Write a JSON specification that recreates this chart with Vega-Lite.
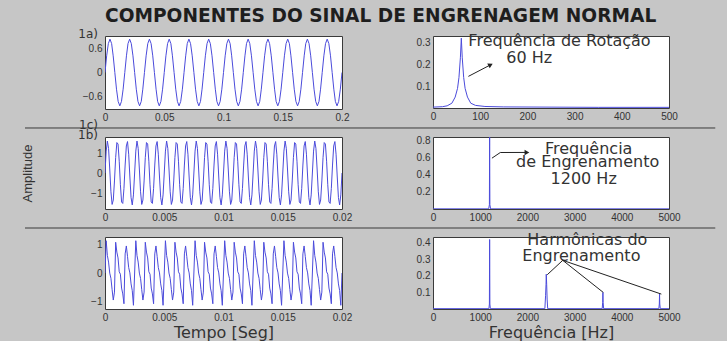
{
"$schema": "https://vega.github.io/schema/vega-lite/v6.json",
"background": "#c6c6c6",
"padding": {"left": 20, "top": 6, "right": 12, "bottom": 0},
"title": {"text": "COMPONENTES DO SINAL DE ENGRENAGEM NORMAL", "anchor": "start", "frame": "group", "font": "DejaVu Sans", "fontSize": 18.6, "fontWeight": "bold", "color": "#1e1e1e", "offset": 2},
"config": {
  "view": {"fill": "white", "stroke": "#3a3a3a", "strokeWidth": 1},
  "axis": {"grid": false, "domain": false, "ticks": false, "labelFont": "Liberation Sans", "labelFontSize": 10, "labelColor": "#333", "labelPadding": 3, "labelFlush": false, "labelOverlap": false, "titleFont": "DejaVu Sans", "titleFontSize": 16, "titleFontWeight": "normal", "titleColor": "#333", "format": ".4~r"},
  "line": {"color": "#4b4bdb", "strokeWidth": 1}
},
"datasets": {
  "a": [
    {"t":0,"v":0},{"t":0.0014,"v":0.425},{"t":0.0028,"v":0.736},{"t":0.0042,"v":0.85},{"t":0.0056,"v":0.736},{"t":0.0069,"v":0.425},{"t":0.0083,"v":0},{"t":0.0097,"v":-0.425},{"t":0.0111,"v":-0.736},{"t":0.0125,"v":-0.85},{"t":0.0139,"v":-0.736},{"t":0.0153,"v":-0.425},
    {"t":0.0167,"v":0},{"t":0.0181,"v":0.425},{"t":0.0194,"v":0.736},{"t":0.0208,"v":0.85},{"t":0.0222,"v":0.736},{"t":0.0236,"v":0.425},{"t":0.025,"v":0},{"t":0.0264,"v":-0.425},{"t":0.0278,"v":-0.736},{"t":0.0292,"v":-0.85},{"t":0.0306,"v":-0.736},{"t":0.0319,"v":-0.425},
    {"t":0.0333,"v":0},{"t":0.0347,"v":0.425},{"t":0.0361,"v":0.736},{"t":0.0375,"v":0.85},{"t":0.0389,"v":0.736},{"t":0.0403,"v":0.425},{"t":0.0417,"v":0},{"t":0.0431,"v":-0.425},{"t":0.0444,"v":-0.736},{"t":0.0458,"v":-0.85},{"t":0.0472,"v":-0.736},{"t":0.0486,"v":-0.425},
    {"t":0.05,"v":0},{"t":0.0514,"v":0.425},{"t":0.0528,"v":0.736},{"t":0.0542,"v":0.85},{"t":0.0556,"v":0.736},{"t":0.0569,"v":0.425},{"t":0.0583,"v":0},{"t":0.0597,"v":-0.425},{"t":0.0611,"v":-0.736},{"t":0.0625,"v":-0.85},{"t":0.0639,"v":-0.736},{"t":0.0653,"v":-0.425},
    {"t":0.0667,"v":0},{"t":0.0681,"v":0.425},{"t":0.0694,"v":0.736},{"t":0.0708,"v":0.85},{"t":0.0722,"v":0.736},{"t":0.0736,"v":0.425},{"t":0.075,"v":0},{"t":0.0764,"v":-0.425},{"t":0.0778,"v":-0.736},{"t":0.0792,"v":-0.85},{"t":0.0806,"v":-0.736},{"t":0.0819,"v":-0.425},
    {"t":0.0833,"v":0},{"t":0.0847,"v":0.425},{"t":0.0861,"v":0.736},{"t":0.0875,"v":0.85},{"t":0.0889,"v":0.736},{"t":0.0903,"v":0.425},{"t":0.0917,"v":0},{"t":0.0931,"v":-0.425},{"t":0.0944,"v":-0.736},{"t":0.0958,"v":-0.85},{"t":0.0972,"v":-0.736},{"t":0.0986,"v":-0.425},
    {"t":0.1,"v":0},{"t":0.1014,"v":0.425},{"t":0.1028,"v":0.736},{"t":0.1042,"v":0.85},{"t":0.1056,"v":0.736},{"t":0.1069,"v":0.425},{"t":0.1083,"v":0},{"t":0.1097,"v":-0.425},{"t":0.1111,"v":-0.736},{"t":0.1125,"v":-0.85},{"t":0.1139,"v":-0.736},{"t":0.1153,"v":-0.425},
    {"t":0.1167,"v":0},{"t":0.1181,"v":0.425},{"t":0.1194,"v":0.736},{"t":0.1208,"v":0.85},{"t":0.1222,"v":0.736},{"t":0.1236,"v":0.425},{"t":0.125,"v":0},{"t":0.1264,"v":-0.425},{"t":0.1278,"v":-0.736},{"t":0.1292,"v":-0.85},{"t":0.1306,"v":-0.736},{"t":0.1319,"v":-0.425},
    {"t":0.1333,"v":0},{"t":0.1347,"v":0.425},{"t":0.1361,"v":0.736},{"t":0.1375,"v":0.85},{"t":0.1389,"v":0.736},{"t":0.1403,"v":0.425},{"t":0.1417,"v":0},{"t":0.1431,"v":-0.425},{"t":0.1444,"v":-0.736},{"t":0.1458,"v":-0.85},{"t":0.1472,"v":-0.736},{"t":0.1486,"v":-0.425},
    {"t":0.15,"v":0},{"t":0.1514,"v":0.425},{"t":0.1528,"v":0.736},{"t":0.1542,"v":0.85},{"t":0.1556,"v":0.736},{"t":0.1569,"v":0.425},{"t":0.1583,"v":0},{"t":0.1597,"v":-0.425},{"t":0.1611,"v":-0.736},{"t":0.1625,"v":-0.85},{"t":0.1639,"v":-0.736},{"t":0.1653,"v":-0.425},
    {"t":0.1667,"v":0},{"t":0.1681,"v":0.425},{"t":0.1694,"v":0.736},{"t":0.1708,"v":0.85},{"t":0.1722,"v":0.736},{"t":0.1736,"v":0.425},{"t":0.175,"v":0},{"t":0.1764,"v":-0.425},{"t":0.1778,"v":-0.736},{"t":0.1792,"v":-0.85},{"t":0.1806,"v":-0.736},{"t":0.1819,"v":-0.425},
    {"t":0.1833,"v":0},{"t":0.1847,"v":0.425},{"t":0.1861,"v":0.736},{"t":0.1875,"v":0.85},{"t":0.1889,"v":0.736},{"t":0.1903,"v":0.425},{"t":0.1917,"v":0},{"t":0.1931,"v":-0.425},{"t":0.1944,"v":-0.736},{"t":0.1958,"v":-0.85},{"t":0.1972,"v":-0.736},{"t":0.1986,"v":-0.425},
    {"t":0.2,"v":0}
  ],
  "bc": [
    {"t":0,"b":0,"c":0},{"t":0.0001,"b":1.095,"c":1.121},{"t":0.0002,"b":1.597,"c":0.612},{"t":0.0003,"b":1.233,"c":0.379},{"t":0.0004,"b":0.2,"c":-0.003},{"t":0.0005,"b":-0.94,"c":-0.186},{"t":0.0006,"b":-1.572,"c":-0.579},{"t":0.0007,"b":-1.351,"c":-0.939},{"t":0.0008,"b":-0.398,"c":-0.664},{"t":0.0009,"b":0.771,"c":1.068},{"t":0.001,"b":1.522,"c":0.726},{"t":0.0011,"b":1.448,"c":0.523},{"t":0.0012,"b":0.589,"c":0.042},{"t":0.0013,"b":-0.589,"c":-0.042},{"t":0.0014,"b":-1.448,"c":-0.523},{"t":0.0015,"b":-1.522,"c":-0.726},{"t":0.0016,"b":-0.771,"c":-1.068},{"t":0.0017,"b":0.398,"c":0.664},{"t":0.0018,"b":1.351,"c":0.939},{"t":0.0019,"b":1.572,"c":0.579},{"t":0.002,"b":0.94,"c":0.186},{"t":0.0021,"b":-0.2,"c":0.003},{"t":0.0022,"b":-1.233,"c":-0.379},{"t":0.0023,"b":-1.597,"c":-0.612},{"t":0.0024,"b":-1.095,"c":-1.121},
    {"t":0.0025,"b":0,"c":0},{"t":0.0026,"b":1.095,"c":1.121},{"t":0.0027,"b":1.597,"c":0.612},{"t":0.0028,"b":1.233,"c":0.379},{"t":0.0029,"b":0.2,"c":-0.003},{"t":0.003,"b":-0.94,"c":-0.186},{"t":0.0031,"b":-1.572,"c":-0.579},{"t":0.0032,"b":-1.351,"c":-0.939},{"t":0.0033,"b":-0.398,"c":-0.664},{"t":0.0034,"b":0.771,"c":1.068},{"t":0.0035,"b":1.522,"c":0.726},{"t":0.0036,"b":1.448,"c":0.523},{"t":0.0037,"b":0.589,"c":0.042},{"t":0.0038,"b":-0.589,"c":-0.042},{"t":0.0039,"b":-1.448,"c":-0.523},{"t":0.004,"b":-1.522,"c":-0.726},{"t":0.0041,"b":-0.771,"c":-1.068},{"t":0.0042,"b":0.398,"c":0.664},{"t":0.0043,"b":1.351,"c":0.939},{"t":0.0044,"b":1.572,"c":0.579},{"t":0.0045,"b":0.94,"c":0.186},{"t":0.0046,"b":-0.2,"c":0.003},{"t":0.0047,"b":-1.233,"c":-0.379},{"t":0.0048,"b":-1.597,"c":-0.612},{"t":0.0049,"b":-1.095,"c":-1.121},
    {"t":0.005,"b":0,"c":0},{"t":0.0051,"b":1.095,"c":1.121},{"t":0.0052,"b":1.597,"c":0.612},{"t":0.0053,"b":1.233,"c":0.379},{"t":0.0054,"b":0.2,"c":-0.003},{"t":0.0055,"b":-0.94,"c":-0.186},{"t":0.0056,"b":-1.572,"c":-0.579},{"t":0.0057,"b":-1.351,"c":-0.939},{"t":0.0058,"b":-0.398,"c":-0.664},{"t":0.0059,"b":0.771,"c":1.068},{"t":0.006,"b":1.522,"c":0.726},{"t":0.0061,"b":1.448,"c":0.523},{"t":0.0062,"b":0.589,"c":0.042},{"t":0.0063,"b":-0.589,"c":-0.042},{"t":0.0064,"b":-1.448,"c":-0.523},{"t":0.0065,"b":-1.522,"c":-0.726},{"t":0.0066,"b":-0.771,"c":-1.068},{"t":0.0067,"b":0.398,"c":0.664},{"t":0.0068,"b":1.351,"c":0.939},{"t":0.0069,"b":1.572,"c":0.579},{"t":0.007,"b":0.94,"c":0.186},{"t":0.0071,"b":-0.2,"c":0.003},{"t":0.0072,"b":-1.233,"c":-0.379},{"t":0.0073,"b":-1.597,"c":-0.612},{"t":0.0074,"b":-1.095,"c":-1.121},
    {"t":0.0075,"b":0,"c":0},{"t":0.0076,"b":1.095,"c":1.121},{"t":0.0077,"b":1.597,"c":0.612},{"t":0.0078,"b":1.233,"c":0.379},{"t":0.0079,"b":0.2,"c":-0.003},{"t":0.008,"b":-0.94,"c":-0.186},{"t":0.0081,"b":-1.572,"c":-0.579},{"t":0.0082,"b":-1.351,"c":-0.939},{"t":0.0083,"b":-0.398,"c":-0.664},{"t":0.0084,"b":0.771,"c":1.068},{"t":0.0085,"b":1.522,"c":0.726},{"t":0.0086,"b":1.448,"c":0.523},{"t":0.0087,"b":0.589,"c":0.042},{"t":0.0088,"b":-0.589,"c":-0.042},{"t":0.0089,"b":-1.448,"c":-0.523},{"t":0.009,"b":-1.522,"c":-0.726},{"t":0.0091,"b":-0.771,"c":-1.068},{"t":0.0092,"b":0.398,"c":0.664},{"t":0.0093,"b":1.351,"c":0.939},{"t":0.0094,"b":1.572,"c":0.579},{"t":0.0095,"b":0.94,"c":0.186},{"t":0.0096,"b":-0.2,"c":0.003},{"t":0.0097,"b":-1.233,"c":-0.379},{"t":0.0098,"b":-1.597,"c":-0.612},{"t":0.0099,"b":-1.095,"c":-1.121},
    {"t":0.01,"b":0,"c":0},{"t":0.0101,"b":1.095,"c":1.121},{"t":0.0102,"b":1.597,"c":0.612},{"t":0.0103,"b":1.233,"c":0.379},{"t":0.0104,"b":0.2,"c":-0.003},{"t":0.0105,"b":-0.94,"c":-0.186},{"t":0.0106,"b":-1.572,"c":-0.579},{"t":0.0107,"b":-1.351,"c":-0.939},{"t":0.0108,"b":-0.398,"c":-0.664},{"t":0.0109,"b":0.771,"c":1.068},{"t":0.011,"b":1.522,"c":0.726},{"t":0.0111,"b":1.448,"c":0.523},{"t":0.0112,"b":0.589,"c":0.042},{"t":0.0113,"b":-0.589,"c":-0.042},{"t":0.0114,"b":-1.448,"c":-0.523},{"t":0.0115,"b":-1.522,"c":-0.726},{"t":0.0116,"b":-0.771,"c":-1.068},{"t":0.0117,"b":0.398,"c":0.664},{"t":0.0118,"b":1.351,"c":0.939},{"t":0.0119,"b":1.572,"c":0.579},{"t":0.012,"b":0.94,"c":0.186},{"t":0.0121,"b":-0.2,"c":0.003},{"t":0.0122,"b":-1.233,"c":-0.379},{"t":0.0123,"b":-1.597,"c":-0.612},{"t":0.0124,"b":-1.095,"c":-1.121},
    {"t":0.0125,"b":0,"c":0},{"t":0.0126,"b":1.095,"c":1.121},{"t":0.0127,"b":1.597,"c":0.612},{"t":0.0128,"b":1.233,"c":0.379},{"t":0.0129,"b":0.2,"c":-0.003},{"t":0.013,"b":-0.94,"c":-0.186},{"t":0.0131,"b":-1.572,"c":-0.579},{"t":0.0132,"b":-1.351,"c":-0.939},{"t":0.0133,"b":-0.398,"c":-0.664},{"t":0.0134,"b":0.771,"c":1.068},{"t":0.0135,"b":1.522,"c":0.726},{"t":0.0136,"b":1.448,"c":0.523},{"t":0.0137,"b":0.589,"c":0.042},{"t":0.0138,"b":-0.589,"c":-0.042},{"t":0.0139,"b":-1.448,"c":-0.523},{"t":0.014,"b":-1.522,"c":-0.726},{"t":0.0141,"b":-0.771,"c":-1.068},{"t":0.0142,"b":0.398,"c":0.664},{"t":0.0143,"b":1.351,"c":0.939},{"t":0.0144,"b":1.572,"c":0.579},{"t":0.0145,"b":0.94,"c":0.186},{"t":0.0146,"b":-0.2,"c":0.003},{"t":0.0147,"b":-1.233,"c":-0.379},{"t":0.0148,"b":-1.597,"c":-0.612},{"t":0.0149,"b":-1.095,"c":-1.121},
    {"t":0.015,"b":0,"c":0},{"t":0.0151,"b":1.095,"c":1.121},{"t":0.0152,"b":1.597,"c":0.612},{"t":0.0153,"b":1.233,"c":0.379},{"t":0.0154,"b":0.2,"c":-0.003},{"t":0.0155,"b":-0.94,"c":-0.186},{"t":0.0156,"b":-1.572,"c":-0.579},{"t":0.0157,"b":-1.351,"c":-0.939},{"t":0.0158,"b":-0.398,"c":-0.664},{"t":0.0159,"b":0.771,"c":1.068},{"t":0.016,"b":1.522,"c":0.726},{"t":0.0161,"b":1.448,"c":0.523},{"t":0.0162,"b":0.589,"c":0.042},{"t":0.0163,"b":-0.589,"c":-0.042},{"t":0.0164,"b":-1.448,"c":-0.523},{"t":0.0165,"b":-1.522,"c":-0.726},{"t":0.0166,"b":-0.771,"c":-1.068},{"t":0.0167,"b":0.398,"c":0.664},{"t":0.0168,"b":1.351,"c":0.939},{"t":0.0169,"b":1.572,"c":0.579},{"t":0.017,"b":0.94,"c":0.186},{"t":0.0171,"b":-0.2,"c":0.003},{"t":0.0172,"b":-1.233,"c":-0.379},{"t":0.0173,"b":-1.597,"c":-0.612},{"t":0.0174,"b":-1.095,"c":-1.121},
    {"t":0.0175,"b":0,"c":0},{"t":0.0176,"b":1.095,"c":1.121},{"t":0.0177,"b":1.597,"c":0.612},{"t":0.0178,"b":1.233,"c":0.379},{"t":0.0179,"b":0.2,"c":-0.003},{"t":0.018,"b":-0.94,"c":-0.186},{"t":0.0181,"b":-1.572,"c":-0.579},{"t":0.0182,"b":-1.351,"c":-0.939},{"t":0.0183,"b":-0.398,"c":-0.664},{"t":0.0184,"b":0.771,"c":1.068},{"t":0.0185,"b":1.522,"c":0.726},{"t":0.0186,"b":1.448,"c":0.523},{"t":0.0187,"b":0.589,"c":0.042},{"t":0.0188,"b":-0.589,"c":-0.042},{"t":0.0189,"b":-1.448,"c":-0.523},{"t":0.019,"b":-1.522,"c":-0.726},{"t":0.0191,"b":-0.771,"c":-1.068},{"t":0.0192,"b":0.398,"c":0.664},{"t":0.0193,"b":1.351,"c":0.939},{"t":0.0194,"b":1.572,"c":0.579},{"t":0.0195,"b":0.94,"c":0.186},{"t":0.0196,"b":-0.2,"c":0.003},{"t":0.0197,"b":-1.233,"c":-0.379},{"t":0.0198,"b":-1.597,"c":-0.612},{"t":0.0199,"b":-1.095,"c":-1.121},
    {"t":0.02,"b":0,"c":0}
  ],
  "s1": [{"f":0,"a":0.004},{"f":20,"a":0.006},{"f":30,"a":0.01},{"f":40,"a":0.022},{"f":47,"a":0.05},{"f":52,"a":0.09},{"f":55,"a":0.14},{"f":58,"a":0.23},{"f":60,"a":0.32},{"f":62,"a":0.23},{"f":65,"a":0.14},{"f":68,"a":0.09},{"f":73,"a":0.05},{"f":80,"a":0.022},{"f":90,"a":0.012},{"f":110,"a":0.007},{"f":150,"a":0.005},{"f":250,"a":0.004},{"f":350,"a":0.003},{"f":500,"a":0.003}],
  "s2": [{"f":0,"a":0.002},{"f":1180,"a":0.002},{"f":1195,"a":0.05},{"f":1200,"a":0.84},{"f":1205,"a":0.05},{"f":1220,"a":0.002},{"f":5000,"a":0.002}],
  "s3": [{"f":0,"a":0.002},{"f":1185,"a":0.002},{"f":1195,"a":0.03},{"f":1200,"a":0.42},{"f":1205,"a":0.03},{"f":1215,"a":0.002},{"f":2370,"a":0.002},{"f":2385,"a":0.08},{"f":2395,"a":0.15},{"f":2400,"a":0.21},{"f":2408,"a":0.15},{"f":2418,"a":0.06},{"f":2430,"a":0.002},{"f":3585,"a":0.002},{"f":3595,"a":0.04},{"f":3600,"a":0.1},{"f":3605,"a":0.04},{"f":3615,"a":0.002},{"f":4785,"a":0.002},{"f":4795,"a":0.03},{"f":4800,"a":0.09},{"f":4805,"a":0.03},{"f":4815,"a":0.002},{"f":5000,"a":0.002}],
  "n1": [{"f":268,"a":0.305,"txt":"Frequência de Rotação"},{"f":204,"a":0.227,"txt":"60 Hz"}],
  "n2": [{"f":3298,"a":0.697,"txt":"Frequência"},{"f":3277,"a":0.543,"txt":"de Engrenamento"},{"f":3192,"a":0.35,"txt":"1200 Hz"}],
  "n3": [{"f":3270,"a":0.417,"txt":"Harmônicas do"},{"f":3144,"a":0.321,"txt":"Engrenamento"}],
  "r1": [{"f":75,"a":0.145,"f2":122,"a2":0.198}],
  "r2": [{"f":1249,"a":0.593,"f2":1426,"a2":0.659},{"f":1426,"a":0.659,"f2":1980,"a2":0.66}],
  "r3": [{"f":2749,"a":0.294,"f2":2420,"a2":0.207},{"f":2749,"a":0.294,"f2":3608,"a2":0.1},{"f":2749,"a":0.294,"f2":4838,"a2":0.09}],
  "h1": [{"f":122,"a":0.198}],
  "h2": [{"f":1990,"a":0.66}]
},
"columns": 2,
"spacing": {"row": 28, "column": 91},
"bounds": "flush",
"concat": [
    {"width": 237, "height": 73,
     "title": {"text": "1a)", "anchor": "start", "frame": "group", "align": "right", "dx": -7, "offset": -5, "font": "DejaVu Sans", "fontSize": 12, "fontWeight": "normal", "color": "#333"},
     "data": {"name": "a"}, "mark": {"type": "line", "clip": true},
     "encoding": {"x": {"field": "t", "type": "quantitative", "scale": {"domain": [0, 0.2], "nice": false, "zero": false}, "axis": {"values": [0, 0.05, 0.1, 0.15, 0.2], "title": null}},
                  "y": {"field": "v", "type": "quantitative", "scale": {"domain": [-0.93, 0.93], "nice": false, "zero": false}, "axis": {"values": [-0.6, 0, 0.6], "title": null}}}},
    {"width": 236, "height": 72,
     "encoding": {"x": {"field": "f", "type": "quantitative", "scale": {"domain": [0, 500], "nice": false, "zero": false}, "axis": {"values": [0, 100, 200, 300, 400, 500], "title": null}},
                  "y": {"field": "a", "type": "quantitative", "scale": {"domain": [0, 0.33], "nice": false}, "axis": {"values": [0.1, 0.2, 0.3], "title": null}}},
     "layer": [
      {"data": {"name": "s1"}, "mark": {"type": "line", "clip": true}},
      {"data": {"name": "n1"}, "mark": {"type": "text", "font": "DejaVu Sans", "fontSize": 16, "color": "#333", "baseline": "middle"}, "encoding": {"text": {"field": "txt"}}},
      {"data": {"name": "r1"}, "mark": {"type": "rule", "color": "#222", "strokeWidth": 1}, "encoding": {"x2": {"field": "f2"}, "y2": {"field": "a2"}}},
      {"data": {"name": "h1"}, "mark": {"type": "point", "shape": "triangle-up", "filled": true, "color": "#222", "opacity": 1, "size": 30, "angle": 63}}
     ]},
    {"width": 237, "height": 72,
     "title": {"text": "1b)", "anchor": "start", "frame": "group", "align": "right", "dx": -7, "offset": -5, "font": "DejaVu Sans", "fontSize": 12, "fontWeight": "normal", "color": "#333"},
     "data": {"name": "bc"}, "mark": {"type": "line", "clip": true},
     "encoding": {"x": {"field": "t", "type": "quantitative", "scale": {"domain": [0, 0.02], "nice": false, "zero": false}, "axis": {"values": [0, 0.005, 0.01, 0.015, 0.02], "title": null}},
                  "y": {"field": "b", "type": "quantitative", "scale": {"domain": [-1.8, 1.8], "nice": false, "zero": false}, "axis": {"values": [-1, 0, 1], "title": "Amplitude", "titleAngle": -90, "titleX": -78, "titleY": 36, "titleAlign": "center", "titleBaseline": "middle", "titleFont": "Liberation Sans", "titleFontSize": 13}}}},
    {"width": 236, "height": 72,
     "encoding": {"x": {"field": "f", "type": "quantitative", "scale": {"domain": [0, 5000], "nice": false, "zero": false}, "axis": {"values": [0, 1000, 2000, 3000, 4000, 5000], "title": null}},
                  "y": {"field": "a", "type": "quantitative", "scale": {"domain": [0, 0.84], "nice": false}, "axis": {"values": [0.2, 0.4, 0.6, 0.8], "title": null}}},
     "layer": [
      {"data": {"name": "s2"}, "mark": {"type": "line", "clip": true}},
      {"data": {"name": "n2"}, "mark": {"type": "text", "font": "DejaVu Sans", "fontSize": 16, "color": "#333", "baseline": "middle"}, "encoding": {"text": {"field": "txt"}}},
      {"data": {"name": "r2"}, "mark": {"type": "rule", "color": "#222", "strokeWidth": 1}, "encoding": {"x2": {"field": "f2"}, "y2": {"field": "a2"}}},
      {"data": {"name": "h2"}, "mark": {"type": "point", "shape": "triangle-up", "filled": true, "color": "#222", "opacity": 1, "size": 30, "angle": 90}}
     ]},
    {"width": 237, "height": 72,
     "title": {"text": "1c)", "anchor": "start", "frame": "group", "align": "right", "dx": -7, "offset": -5, "font": "DejaVu Sans", "fontSize": 12, "fontWeight": "normal", "color": "#333"},
     "resolve": {"scale": {"x": "independent", "y": "independent"}, "axis": {"x": "independent", "y": "independent"}},
     "layer": [
      {"data": {"name": "bc"}, "mark": {"type": "line", "clip": true},
       "encoding": {"x": {"field": "t", "type": "quantitative", "scale": {"domain": [0, 0.02], "nice": false, "zero": false}, "axis": {"values": [0, 0.005, 0.01, 0.015, 0.02], "title": "Tempo [Seg]", "titlePadding": 2}},
                    "y": {"field": "c", "type": "quantitative", "scale": {"domain": [-1.25, 1.25], "nice": false, "zero": false}, "axis": {"values": [-1, 0, 1], "title": null}}}},
      {"data": {"values": [{}]}, "mark": {"type": "rule", "color": "#3a3a3a", "strokeWidth": 1},
       "encoding": {"x": {"datum": -0.00675, "scale": {"domain": [0, 0.02], "nice": false, "zero": false}, "axis": null}, "x2": {"datum": 0.0515}, "y": {"datum": 5.035, "scale": {"domain": [-1.25, 1.25], "nice": false, "zero": false}, "axis": null}}},
      {"data": {"values": [{}]}, "mark": {"type": "rule", "color": "#3a3a3a", "strokeWidth": 1},
       "encoding": {"x": {"datum": -0.00675, "scale": {"domain": [0, 0.02], "nice": false, "zero": false}, "axis": null}, "x2": {"datum": 0.0515}, "y": {"datum": 1.5625, "scale": {"domain": [-1.25, 1.25], "nice": false, "zero": false}, "axis": null}}}
     ]},
    {"width": 236, "height": 72,
     "encoding": {"x": {"field": "f", "type": "quantitative", "scale": {"domain": [0, 5000], "nice": false, "zero": false}, "axis": {"values": [0, 1000, 2000, 3000, 4000, 5000], "title": "Frequência [Hz]", "titlePadding": 2}},
                  "y": {"field": "a", "type": "quantitative", "scale": {"domain": [0, 0.435], "nice": false}, "axis": {"values": [0.1, 0.2, 0.3, 0.4], "title": null}}},
     "layer": [
      {"data": {"name": "s3"}, "mark": {"type": "line", "clip": true}},
      {"data": {"name": "n3"}, "mark": {"type": "text", "font": "DejaVu Sans", "fontSize": 16, "color": "#333", "baseline": "middle"}, "encoding": {"text": {"field": "txt"}}},
      {"data": {"name": "r3"}, "mark": {"type": "rule", "color": "#222", "strokeWidth": 1}, "encoding": {"x2": {"field": "f2"}, "y2": {"field": "a2"}}}
     ]}
]
}
